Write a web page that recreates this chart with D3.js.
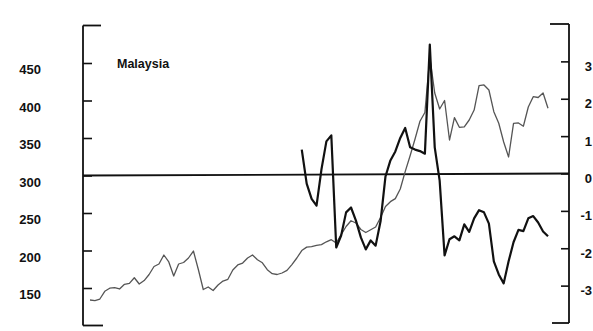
<!DOCTYPE html>
<html>
<head>
<meta charset="utf-8">
<script src="https://cdn.jsdelivr.net/npm/d3@7"></script>
<style>
  html, body { margin: 0; padding: 0; background: #fff; }
  svg { display: block; }
  text { font-family: "Liberation Sans", Arial, Helvetica, sans-serif; fill: #111; }
</style>
</head>
<body>
<svg id="chart" width="593" height="331"></svg>
<script>
// Monthly index (left axis), one value per month
const indexSeries = [
  134, 133.3, 135.3, 145.6, 149.7, 150.4, 148.7, 154.9, 156.1, 163.7,
  155.3, 159.9, 168, 178.7, 182, 194, 184.7, 166, 182, 184,
  190, 199.3, 174.7, 148, 151.3, 146.7, 154, 159.3, 161.6, 174,
  180.7, 183.3, 190, 194, 187.6, 183.6, 174.4, 169.1, 168, 170,
  173.5, 181.2, 190, 199.9, 204.5, 205.1, 206.9, 207.9, 211.6, 214.4,
  210, 221.1, 232, 239.7, 236.7, 228, 224, 227.6, 231.3, 244,
  258.7, 265.1, 269.2, 282, 305.2, 326.3, 348.7, 372.3, 384, 458,
  410, 388.7, 400, 347.3, 377.2, 364.3, 364.9, 374, 387.3, 419.7,
  420.7, 414, 385.1, 369.7, 344.7, 324.7, 369.6, 370.1, 365.7, 391.3,
  405.1, 404, 410, 389.6
];

// Deviation series (right axis); starts at month 43
const deviationStart = 43;
const deviationSeries = [
  0.64, -0.27, -0.68, -0.86, 0.11, 0.86, 1.02, -1.98, -1.66, -1.04,
  -0.91, -1.26, -1.71, -2.03, -1.79, -1.93, -1.28, -0.08, 0.35, 0.59,
  0.95, 1.22, 0.70, 0.64, 0.60, 0.53, 3.45, 0.70, -0.19, -2.19,
  -1.76, -1.68, -1.79, -1.36, -1.56, -1.20, -0.98, -1.04, -1.34, -2.35,
  -2.70, -2.94, -2.35, -1.84, -1.51, -1.54, -1.20, -1.14, -1.31, -1.55,
  -1.68
];

const leftTicks = [150, 200, 250, 300, 350, 400, 450];
const rightTicks = [-3, -2, -1, 0, 1, 2, 3];
const title = "Malaysia";

const svg = d3.select("#chart");

const x = d3.scaleLinear().domain([0, indexSeries.length - 1]).range([90, 548]);
const yL = d3.scaleLinear().domain([100, 500]).range([325.5, 25.5]);
const yR = d3.scaleLinear().domain([-4, 4]).range([323, 24]);

const leftX = 83, rightX = 569;

// Left axis
const gL = svg.append("g").attr("transform", `translate(${leftX},0)`);
gL.call(d3.axisRight(yL).tickValues(leftTicks).tickSize(9).tickFormat(""));
gL.select(".domain").remove();
gL.selectAll(".tick line").attr("stroke", "#111").attr("stroke-width", 1.6);
gL.append("line").attr("x1", 0).attr("x2", 0).attr("y1", yL(500)).attr("y2", yL(100))
  .attr("stroke", "#111").attr("stroke-width", 1.8);
gL.append("line").attr("x1", 0).attr("x2", 18).attr("y1", yL(500)).attr("y2", yL(500))
  .attr("stroke", "#111").attr("stroke-width", 1.8);
gL.append("line").attr("x1", 0).attr("x2", 20).attr("y1", yL(100)).attr("y2", yL(100))
  .attr("stroke", "#111").attr("stroke-width", 1.8);

svg.append("g").selectAll("text").data(leftTicks).join("text")
  .attr("x", 41).attr("y", d => yL(d) + 6.5)
  .attr("dy", "0.35em").attr("text-anchor", "end")
  .attr("font-size", 13).attr("font-weight", "bold")
  .text(d => d);

// Right axis
const gR = svg.append("g").attr("transform", `translate(${rightX},0)`);
gR.call(d3.axisLeft(yR).tickValues(rightTicks).tickSize(8).tickFormat(""));
gR.select(".domain").remove();
gR.selectAll(".tick line").attr("stroke", "#111").attr("stroke-width", 1.6);
gR.append("line").attr("x1", 0).attr("x2", 0).attr("y1", yR(4)).attr("y2", yR(-4))
  .attr("stroke", "#111").attr("stroke-width", 1.8);
gR.append("line").attr("x1", 0).attr("x2", -19).attr("y1", yR(4)).attr("y2", yR(4))
  .attr("stroke", "#111").attr("stroke-width", 1.8);
gR.append("line").attr("x1", 0).attr("x2", -17).attr("y1", yR(-4)).attr("y2", yR(-4))
  .attr("stroke", "#111").attr("stroke-width", 1.8);

svg.append("g").selectAll("text").data(rightTicks).join("text")
  .attr("x", 592).attr("y", d => yR(d) + 5)
  .attr("dy", "0.35em").attr("text-anchor", "end")
  .attr("font-size", 13).attr("font-weight", "bold")
  .text(d => d < 0 ? "-" + Math.abs(d) : String(d));

// Zero reference line across the plot
svg.append("line")
  .attr("x1", leftX).attr("x2", rightX)
  .attr("y1", yL(300)).attr("y2", yR(0))
  .attr("stroke", "#111").attr("stroke-width", 1.8);

// Index line (thin, grey)
svg.append("path")
  .datum(indexSeries)
  .attr("fill", "none").attr("stroke", "#555").attr("stroke-width", 1.3)
  .attr("stroke-linejoin", "round")
  .attr("d", d3.line().x((d, i) => x(i)).y(d => yL(d)));

// Deviation line (thick, black)
svg.append("path")
  .datum(deviationSeries)
  .attr("fill", "none").attr("stroke", "#111").attr("stroke-width", 2.2)
  .attr("stroke-linejoin", "round")
  .attr("d", d3.line().x((d, i) => x(i + deviationStart)).y(d => yR(d)));

// Title
svg.append("text")
  .attr("x", 117).attr("y", 68)
  .attr("font-size", 12.5).attr("font-weight", "bold")
  .text(title);
</script>
</body>
</html>
